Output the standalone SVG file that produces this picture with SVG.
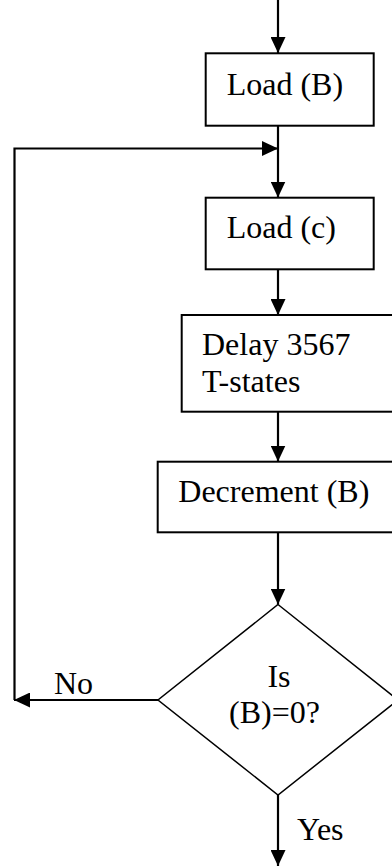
<svg xmlns="http://www.w3.org/2000/svg" width="392" height="867" viewBox="0 0 392 867">
  <style>
    .box { fill: #ffffff; stroke: #000000; stroke-width: 2; }
    .dia { fill: #ffffff; stroke: #000000; stroke-width: 1.5; }
    .edge { fill: none; stroke: #000000; stroke-width: 2.2; }
    text { font-family: "Liberation Serif", "Times New Roman", serif; font-size: 32px; fill: #000000; }
  </style>
  <defs>
    <marker id="arrow" markerUnits="userSpaceOnUse" markerWidth="16" markerHeight="15" refX="16" refY="7.5" orient="auto">
      <path d="M0,0 L16,7.5 L0,15 z" fill="#000000"/>
    </marker>
  </defs>
  <rect width="392" height="867" fill="#ffffff"/>

  <!-- connectors -->
  <g id="connectors">
    <path class="edge" d="M278 0 V53" marker-end="url(#arrow)"/>
    <path class="edge" d="M278 126 V197.5" marker-end="url(#arrow)"/>
    <path class="edge" d="M14.5 700 V148.5 H278" marker-end="url(#arrow)"/>
    <path class="edge" d="M278 269.5 V315" marker-end="url(#arrow)"/>
    <path class="edge" d="M278 411.5 V461.5" marker-end="url(#arrow)"/>
    <path class="edge" d="M278 532.5 V604.5" marker-end="url(#arrow)"/>
    <path class="edge" d="M158 700 H14" marker-end="url(#arrow)"/>
    <path class="edge" d="M278 795 V866" marker-end="url(#arrow)"/>
    <text x="54" y="694">No</text>
    <text x="297" y="840">Yes</text>
  </g>

  <!-- process steps -->
  <g id="load-b">
    <rect class="box" x="205.7" y="53.3" width="168" height="72.4"/>
    <text x="226.7" y="95">Load (B)</text>
  </g>
  <g id="load-c">
    <rect class="box" x="205.7" y="197.7" width="168" height="71.6"/>
    <text x="226.7" y="237.7">Load (c)</text>
  </g>
  <g id="delay">
    <rect class="box" x="181.7" y="315" width="232" height="96.7"/>
    <text x="202" y="355">Delay 3567</text>
    <text x="202" y="391.7">T-states</text>
  </g>
  <g id="decrement">
    <rect class="box" x="157.7" y="461.7" width="256" height="70.6"/>
    <text x="178.3" y="501.7">Decrement (B)</text>
  </g>

  <!-- decision -->
  <g id="is-zero">
    <polygon class="dia" points="278,604.5 398,700 278,795 158,700"/>
    <text x="279" y="687" text-anchor="middle">Is</text>
    <text x="229" y="723">(B)=0?</text>
  </g>
</svg>
